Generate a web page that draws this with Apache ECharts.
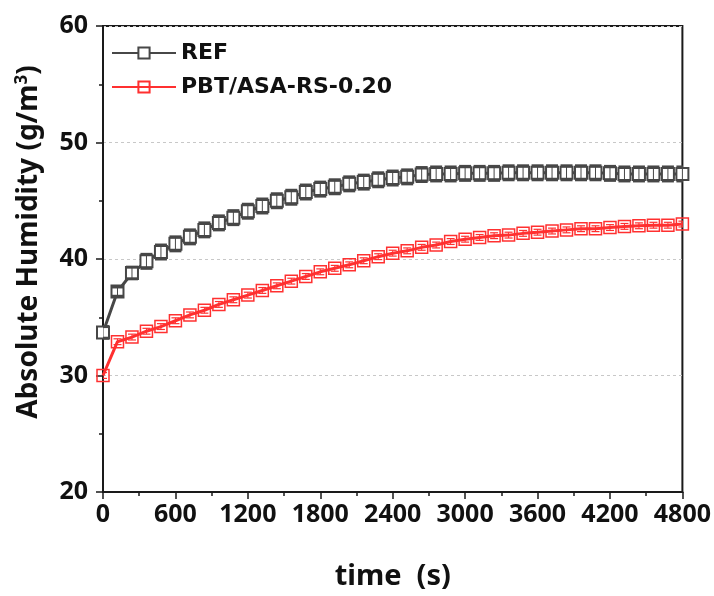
<!DOCTYPE html>
<html>
<head>
<meta charset="utf-8">
<script src="https://cdn.jsdelivr.net/npm/echarts@6/dist/echarts.min.js"></script>
<style>html,body{margin:0;padding:0;background:#fff;}#c{width:714px;height:596px;}</style>
</head>
<body>
<div id="c"></div>
<script>
const times = [0,120,240,360,480,600,720,840,960,1080,1200,1320,1440,1560,1680,1800,1920,2040,2160,2280,2400,2520,2640,2760,2880,3000,3120,3240,3360,3480,3600,3720,3840,3960,4080,4200,4320,4440,4560,4680,4800];
const refValues = [33.7,37.2,38.8,39.8,40.6,41.3,41.9,42.5,43.1,43.55,44.1,44.55,45.0,45.3,45.75,46.0,46.2,46.45,46.6,46.8,46.95,47.05,47.25,47.3,47.3,47.35,47.35,47.35,47.4,47.4,47.4,47.4,47.4,47.4,47.4,47.35,47.3,47.3,47.3,47.3,47.3];
const refErr = [0.5,0.4,0.5,0.6,0.6,0.6,0.6,0.6,0.6,0.6,0.6,0.6,0.6,0.6,0.6,0.6,0.6,0.6,0.6,0.6,0.6,0.6,0.6,0.6,0.6,0.6,0.6,0.6,0.6,0.6,0.6,0.6,0.6,0.6,0.6,0.6,0.6,0.6,0.6,0.6,0.6];
const rsValues = [30.0,32.9,33.3,33.8,34.2,34.7,35.2,35.6,36.1,36.5,36.9,37.3,37.7,38.1,38.5,38.9,39.2,39.5,39.85,40.2,40.5,40.7,41.0,41.2,41.5,41.7,41.85,42.0,42.05,42.2,42.3,42.4,42.5,42.6,42.6,42.7,42.8,42.85,42.9,42.9,43.0];
const rsErr = [0.25,0.25,0.25,0.25,0.25,0.25,0.25,0.25,0.25,0.25,0.25,0.25,0.25,0.25,0.25,0.25,0.25,0.25,0.25,0.25,0.25,0.25,0.25,0.25,0.25,0.25,0.25,0.25,0.25,0.25,0.25,0.25,0.25,0.25,0.25,0.25,0.25,0.25,0.25,0.25,0.25];
const xTicks = [0,600,1200,1800,2400,3000,3600,4200,4800];
const yTicks = [20,30,40,50,60];
const seriesNames = ['REF','PBT/ASA-RS-0.20'];

const GRAY = '#474747';
const RED = '#ff3030';
const FONT = 'Noto Sans';

function pairs(vals){ return times.map((t,i)=>[t, vals[i]]); }
function errData(vals, errs){ return times.map((t,i)=>[t, vals[i], errs[i]]); }
function errRender(color, capW, lw){
  return function(params, api){
    const x = api.value(0), y = api.value(1), e = api.value(2);
    const lo = api.coord([x, y - e]);
    const hi = api.coord([x, y + e]);
    const st = {stroke: color, lineWidth: lw};
    return {type:'group', children:[
      {type:'line', shape:{x1:lo[0], y1:lo[1], x2:hi[0], y2:hi[1]}, style:{stroke:color, lineWidth:1}},
      {type:'line', shape:{x1:lo[0]-capW/2, y1:lo[1], x2:lo[0]+capW/2, y2:lo[1]}, style:st},
      {type:'line', shape:{x1:hi[0]-capW/2, y1:hi[1], x2:hi[0]+capW/2, y2:hi[1]}, style:st}
    ]};
  };
}

const chart = echarts.init(document.getElementById('c'), null, {renderer:'canvas'});
chart.setOption({
  animation:false,
  backgroundColor:'#fff',
  grid:{left:103, right:30, top:26, bottom:102, show:true, borderColor:'#1a1a1a', borderWidth:2, backgroundColor:'transparent'},
  legend:{
    data:seriesNames, orient:'vertical', left:106, top:37, itemWidth:64, itemHeight:14, itemGap:12,
    textStyle:{fontFamily:'DejaVu Sans', fontSize:22, fontWeight:'bold', color:'#111'}
  },
  graphic:[{
    type:'text', x:29, y:242, rotation:Math.PI/2, z:10,
    style:{
      text:'{a|Absolute Humidity (g/m}{s|3}{a|)}', align:'center', verticalAlign:'middle',
      rich:{
        a:{fontFamily:FONT, fontSize:28, fontWeight:'bold', fill:'#111'},
        s:{fontFamily:FONT, fontSize:17, fontWeight:'bold', fill:'#111', verticalAlign:'top', padding:[0,0,14,0]}
      }
    }
  }],
  xAxis:{
    type:'value', min:xTicks[0], max:xTicks[xTicks.length-1], interval:600,
    name:'time  (s)', nameLocation:'middle', nameGap:70,
    nameTextStyle:{fontFamily:FONT, fontSize:29, fontWeight:'bold', color:'#111'},
    axisLine:{show:true, lineStyle:{color:'#1a1a1a', width:2}},
    axisTick:{show:true, inside:false, length:7, lineStyle:{color:'#1a1a1a', width:1.5}},
    minorTick:{show:true, splitNumber:2, length:4, lineStyle:{color:'#1a1a1a', width:1.5}},
    axisLabel:{fontFamily:FONT, fontSize:25, fontWeight:'bold', color:'#111', margin:10, formatter:(v)=>String(v)},
    splitLine:{show:false}
  },
  yAxis:{
    type:'value', min:yTicks[0], max:yTicks[yTicks.length-1], interval:10,
    axisLine:{show:true, lineStyle:{color:'#1a1a1a', width:2}},
    axisTick:{show:true, inside:false, length:7, lineStyle:{color:'#1a1a1a', width:1.5}},
    minorTick:{show:true, splitNumber:2, length:4, lineStyle:{color:'#1a1a1a', width:1.5}},
    axisLabel:{fontFamily:FONT, fontSize:25, fontWeight:'bold', color:'#111', margin:15, formatter:(v)=>String(v)},
    splitLine:{show:true, lineStyle:{color:'#c8c8c8', type:[3,3], width:1}}
  },
  series:[
    {name:seriesNames[0], type:'line', data:pairs(refValues), symbol:'rect', symbolSize:12, clip:true,
     lineStyle:{color:GRAY, width:3}, itemStyle:{color:'#fff', borderColor:GRAY, borderWidth:2}, z:3},
    {name:seriesNames[1], type:'line', data:pairs(rsValues), symbol:'rect', symbolSize:12, clip:true,
     lineStyle:{color:RED, width:3}, itemStyle:{color:'rgba(255,255,255,0)', borderColor:RED, borderWidth:1.5}, z:3},
    {type:'custom', data:errData(refValues, refErr), renderItem:errRender(GRAY, 12, 3), z:5, silent:true, clip:true},
    {type:'custom', data:errData(rsValues, rsErr), renderItem:errRender(RED, 8, 1.2), z:5, silent:true, clip:true}
  ]
});
</script>
</body>
</html>
